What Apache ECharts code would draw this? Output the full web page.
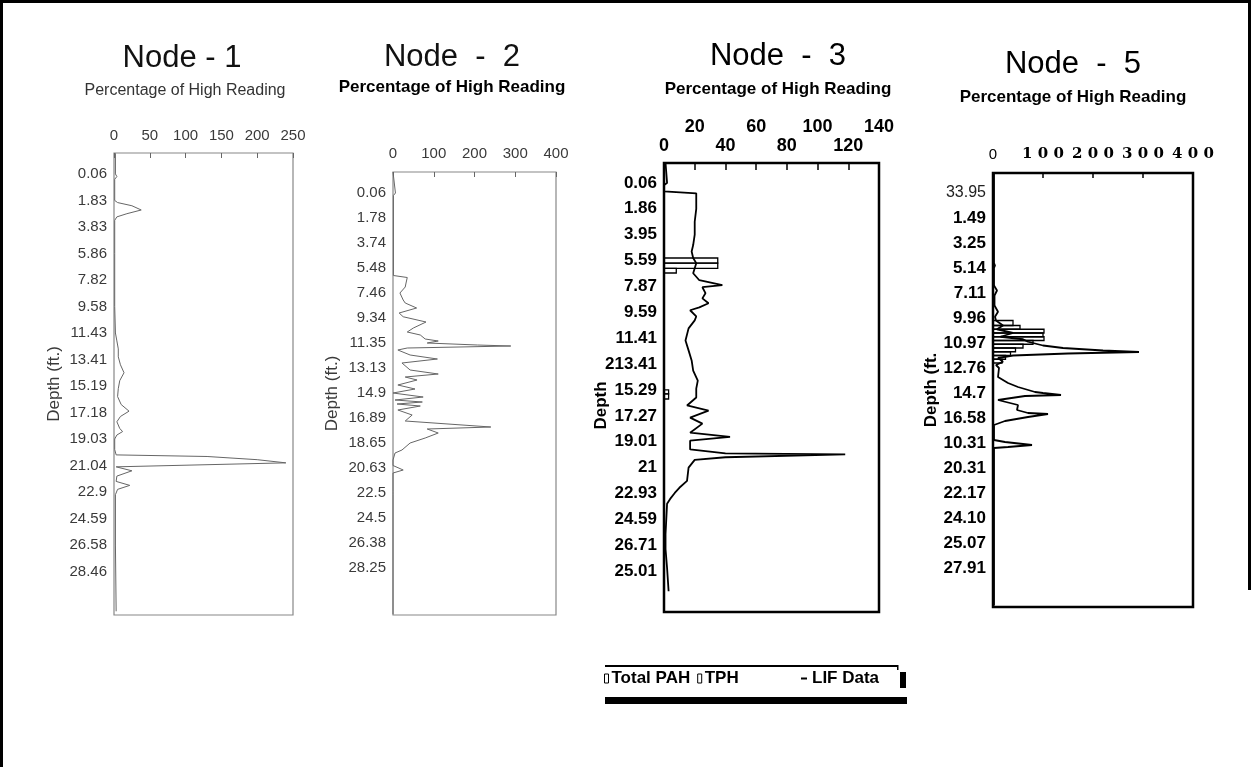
<!DOCTYPE html>
<html><head><meta charset="utf-8">
<script src="https://cdn.jsdelivr.net/npm/echarts@6/dist/echarts.min.js"></script>
<style>html,body{margin:0;padding:0;background:#fff}#c{width:1251px;height:767px}</style>
</head><body><div id="c"></div>
<script>
// ---- tick labels (depth rows, evenly spaced as printed) ----
const node1DepthLabels = ['0.06','1.83','3.83','5.86','7.82','9.58','11.43','13.41','15.19','17.18','19.03','21.04','22.9','24.59','26.58','28.46'];
const node2DepthLabels = ['0.06','1.78','3.74','5.48','7.46','9.34','11.35','13.13','14.9','16.89','18.65','20.63','22.5','24.5','26.38','28.25'];
const node3DepthLabels = ['0.06','1.86','3.95','5.59','7.87','9.59','11.41','213.41','15.29','17.27','19.01','21','22.93','24.59','26.71','25.01'];
const node5DepthLabels = ['33.95','1.49','3.25','5.14','7.11','9.96','10.97','12.76','14.7','16.58','10.31','20.31','22.17','24.10','25.07','27.91'];

// ---- LIF data: [depth row, percentage of high reading] ----
const node1Lif = [[-0.78,2],[0.0,2],[0.1,4],[0.2,1],[1.0,1],[1.08,5],[1.2,25],[1.36,38],[1.5,18],[1.62,4],[1.75,1],[3.0,1],[5.0,1],[6.0,2],[6.3,4],[6.6,6],[6.9,6],[7.2,9],[7.5,14],[7.8,8],[8.1,6],[8.4,5],[8.7,10],[8.95,21],[9.15,9],[9.35,4],[9.6,8],[9.72,12],[9.85,4],[10.0,1],[10.4,1],[10.6,3],[10.66,130],[10.78,200],[10.9,240],[11.05,3],[11.2,25],[11.4,4],[11.6,3],[11.75,22],[11.9,5],[12.1,2],[14.0,2],[16.5,3]];
const node2Lif = [[-0.84,0],[0.0,6],[0.1,1],[3.3,1],[3.38,35],[3.6,32],[3.76,30],[4.0,17],[4.28,25],[4.4,30],[4.6,58],[4.8,15],[4.95,25],[5.16,81],[5.4,50],[5.56,35],[5.68,67],[5.84,79],[5.92,111],[6.0,84],[6.08,207],[6.12,289],[6.2,35],[6.28,12],[6.48,42],[6.64,109],[6.8,22],[7.08,42],[7.24,111],[7.36,30],[7.48,59],[7.68,12],[7.84,54],[8.0,0],[8.16,74],[8.28,5],[8.36,72],[8.44,10],[8.52,67],[8.68,12],[8.88,47],[9.12,30],[9.36,240],[9.44,84],[9.6,111],[9.8,79],[10.0,42],[10.28,22],[10.4,5],[10.68,0],[10.9,0],[11.08,25],[11.2,0],[11.95,0],[12.0,4],[12.05,0],[16.85,0]];
const node3Lif = [[-0.77,1],[0.0,2],[0.08,0],[0.33,0],[0.4,21],[1.0,21],[1.5,20],[2.0,20],[2.4,19],[2.65,18],[2.9,19],[3.1,21],[3.3,20],[3.49,19],[3.76,23],[3.95,38],[4.03,25],[4.26,27],[4.46,25],[4.65,29],[4.81,23],[4.92,17],[5.16,21],[5.31,20],[5.62,16],[6.09,14],[6.47,16],[6.86,18],[7.25,19],[7.64,22],[7.95,21],[8.29,21],[8.6,15],[8.8,29],[9.07,17],[9.3,25],[9.65,17],[9.81,43],[9.96,17],[10.3,17],[10.45,40],[10.49,118],[10.6,40],[10.7,20],[11.0,16],[11.51,15],[11.78,10],[11.98,7],[12.21,4],[12.4,2],[13.57,1],[14.15,1],[14.88,2],[15.78,3]];
const node5Lif = [[-0.8,2],[0.3,2],[0.35,4],[0.45,2],[2.8,2],[2.9,4],[3.0,2],[3.7,2],[3.9,8],[4.1,3],[4.5,3],[4.75,10],[4.95,4],[5.1,6],[5.3,20],[5.45,8],[5.6,40],[5.75,15],[5.85,60],[5.95,70],[6.1,100],[6.2,140],[6.3,220],[6.36,292],[6.42,150],[6.5,40],[6.6,10],[6.75,20],[6.88,6],[7.0,12],[7.36,10],[7.6,30],[7.76,50],[7.96,84],[8.0,100],[8.08,136],[8.12,64],[8.28,10],[8.4,34],[8.48,50],[8.68,48],[8.8,70],[8.84,110],[8.96,70],[9.12,24],[9.28,2],[9.88,2],[9.96,24],[10.08,78],[10.16,30],[10.2,2],[16.5,2]];

// ---- Total PAH / TPH bars: [row top, row bottom, value] ----
const node3TotalPah = [[2.9,3.1,35],[3.3,3.48,8],[8.0,8.15,3]];
const node3Tph = [[3.1,3.3,35],[8.15,8.35,3]];
const node5TotalPah = [[5.3,5.45,54],[5.6,5.75,100],[5.9,6.05,80],[6.2,6.35,45],[6.5,6.65,25]];
const node5Tph = [[5.1,5.3,40],[5.45,5.6,102],[5.75,5.9,102],[6.05,6.2,60],[6.35,6.5,35],[6.65,6.8,18]];

const SANS = "'Liberation Sans', Arial, sans-serif";
const NARROW = "'Liberation Sans Narrow', 'Arial Narrow', 'Liberation Sans', sans-serif";
const toXY = arr => arr.map(p => [p[1], p[0]]);

function barItem(params, api) {
  const p0 = api.coord([0, api.value(0)]);
  const p1 = api.coord([api.value(2), api.value(1)]);
  return {type:'rect', shape:{x:p0[0], y:p0[1], width:p1[0]-p0[0], height:p1[1]-p0[1]},
    style:{fill:'rgba(255,255,255,0)', stroke:'#000', lineWidth:1.3}};
}

function yAxis(gi, labels, min, max, name, nameGap, labelStyle, nameStyle, fmt) {
  return {type:'value', gridIndex:gi, inverse:true, min, max,
    axisLine:{show:false, onZero:false}, axisTick:{show:false}, splitLine:{show:false},
    axisLabel:Object.assign({customValues: labels.map((_, i) => i), margin:7,
      formatter: fmt || (v => labels[Math.round(v)])}, labelStyle),
    name, nameLocation:'middle', nameGap, nameMoveOverlap:false, nameTextStyle: nameStyle};
}

const greyLbl = {fontFamily:SANS, fontSize:15, color:'#3a3a3a'};
const boldLbl = {fontFamily:NARROW, fontSize:17, fontWeight:'bold', color:'#000'};
const node5Lbl = Object.assign({rich:{r:{fontFamily:SANS, fontWeight:'normal', fontSize:16, color:'#222'}}}, boldLbl);

const option = {
  animation:false,
  backgroundColor:'#fff',
  title: [
    {text:'Node - 1', left:182, top:43, textAlign:'center', padding:0, textStyle:{fontFamily:SANS, fontWeight:'normal', fontSize:31, color:'#111'}},
    {text:'Percentage of High Reading', left:185, top:83, textAlign:'center', padding:0, textStyle:{fontFamily:SANS, fontWeight:'normal', fontSize:16, color:'#333'}},
    {text:'Node  -  2', left:452, top:42, textAlign:'center', padding:0, textStyle:{fontFamily:SANS, fontWeight:'normal', fontSize:31, color:'#111'}},
    {text:'Percentage of High Reading', left:452, top:79, textAlign:'center', padding:0, textStyle:{fontFamily:NARROW, fontWeight:'bold', fontSize:17, color:'#000'}},
    {text:'Node  -  3', left:778, top:41, textAlign:'center', padding:0, textStyle:{fontFamily:SANS, fontWeight:'normal', fontSize:31, color:'#000'}},
    {text:'Percentage of High Reading', left:778, top:81, textAlign:'center', padding:0, textStyle:{fontFamily:NARROW, fontWeight:'bold', fontSize:17, color:'#000'}},
    {text:'Node  -  5', left:1073, top:49, textAlign:'center', padding:0, textStyle:{fontFamily:SANS, fontWeight:'normal', fontSize:31, color:'#000'}},
    {text:'Percentage of High Reading', left:1073, top:89, textAlign:'center', padding:0, textStyle:{fontFamily:NARROW, fontWeight:'bold', fontSize:17, color:'#000'}}
  ],
  legend: [
    {data:[{name:'Total PAH', icon:'rect', itemStyle:{color:'#fff', borderColor:'#000', borderWidth:1}},
           {name:'TPH', icon:'rect', itemStyle:{color:'#fff', borderColor:'#000', borderWidth:1}}],
     left:604, top:670, padding:0, itemWidth:4, itemHeight:9, itemGap:7, selectedMode:false,
     textStyle:{fontFamily:SANS, fontWeight:'bold', fontSize:17, color:'#000', padding:[0,0,0,-2]}},
    {data:[{name:'LIF Data', icon:'rect', itemStyle:{color:'#000'}, lineStyle:{color:'#000'}}],
     left:801, top:670, padding:0, itemWidth:6, itemHeight:2, selectedMode:false,
     textStyle:{fontFamily:SANS, fontWeight:'bold', fontSize:17, color:'#000'}}
  ],
  grid: [
    {left:114, top:153, width:179, height:462, show:true, borderColor:'#888', borderWidth:1.2, backgroundColor:'transparent'},
    {left:393, top:172, width:163, height:443, show:true, borderColor:'#888', borderWidth:1.2, backgroundColor:'transparent'},
    {left:664, top:163, width:215, height:449, show:true, borderColor:'#000', borderWidth:2.5, backgroundColor:'transparent'},
    {left:993, top:173, width:200, height:434, show:true, borderColor:'#000', borderWidth:2.5, backgroundColor:'transparent'}
  ],
  xAxis: [
    {type:'value', gridIndex:0, position:'top', min:0, max:250, interval:50, splitLine:{show:false}, axisLine:{show:false, onZero:false},
     axisTick:{inside:true, length:5, lineStyle:{color:'#666'}}, axisLabel:Object.assign({margin:10}, greyLbl)},
    {type:'value', gridIndex:1, position:'top', min:0, max:400, interval:100, splitLine:{show:false}, axisLine:{show:false, onZero:false},
     axisTick:{inside:true, length:5, lineStyle:{color:'#666'}}, axisLabel:Object.assign({margin:11}, greyLbl)},
    {type:'value', gridIndex:2, position:'top', min:0, max:140, interval:20, splitLine:{show:false}, axisLine:{show:false, onZero:false},
     axisTick:{inside:true, length:7, lineStyle:{color:'#000', width:1.5}},
     axisLabel:{margin:7, fontFamily:NARROW, fontWeight:'bold', fontSize:18, color:'#000', lineHeight:19,
       formatter: v => ((v / 20) % 2 === 1 ? v + '\n ' : '' + v)}},
    {type:'value', gridIndex:3, position:'top', min:0, max:400, interval:100, splitLine:{show:false}, axisLine:{show:false, onZero:false},
     axisTick:{inside:true, length:5, lineStyle:{color:'#000', width:1.5}},
     axisLabel:{margin:11, fontFamily:"'DejaVu Serif', serif", fontWeight:'bold', fontSize:15, color:'#000',
       formatter: v => (v === 0 ? '{z|0}' : String(v).split('').join(' ')),
       rich:{z:{fontFamily:SANS, fontWeight:'normal', fontSize:15, color:'#000'}}}}
  ],
  yAxis: [
    yAxis(0, node1DepthLabels, -0.79, 16.64, 'Depth (ft.)', 51, greyLbl, {fontFamily:SANS, fontSize:17, color:'#3a3a3a'}),
    yAxis(1, node2DepthLabels, -0.84, 16.88, 'Depth (ft.)', 52, greyLbl, {fontFamily:SANS, fontSize:17, color:'#3a3a3a'}),
    yAxis(2, node3DepthLabels, -0.77, 16.58, 'Depth', 54, boldLbl, {fontFamily:SANS, fontWeight:'bold', fontSize:17, color:'#000', padding:[0,36,0,0]}),
    yAxis(3, node5DepthLabels, -0.8, 16.56, 'Depth (ft.', 53, node5Lbl, {fontFamily:SANS, fontWeight:'bold', fontSize:17, color:'#000'},
      v => (Math.round(v) === 0 ? '{r|' + node5DepthLabels[0] + '}' : node5DepthLabels[Math.round(v)]))
  ],
  series: [
    {type:'line', name:'LIF Data', xAxisIndex:0, yAxisIndex:0, data:toXY(node1Lif), symbol:'none', lineStyle:{color:'#666', width:1}},
    {type:'line', name:'LIF Data', xAxisIndex:1, yAxisIndex:1, data:toXY(node2Lif), symbol:'none', lineStyle:{color:'#666', width:1}},
    {type:'line', name:'LIF Data', xAxisIndex:2, yAxisIndex:2, data:toXY(node3Lif), symbol:'none', lineStyle:{color:'#000', width:1.8}},
    {type:'line', name:'LIF Data', xAxisIndex:3, yAxisIndex:3, data:toXY(node5Lif), symbol:'none', lineStyle:{color:'#000', width:1.8}},
    {type:'custom', name:'Total PAH', xAxisIndex:2, yAxisIndex:2, data:node3TotalPah, renderItem:barItem, encode:{x:2, y:[0,1]}},
    {type:'custom', name:'TPH', xAxisIndex:2, yAxisIndex:2, data:node3Tph, renderItem:barItem, encode:{x:2, y:[0,1]}},
    {type:'custom', name:'Total PAH', xAxisIndex:3, yAxisIndex:3, data:node5TotalPah, renderItem:barItem, encode:{x:2, y:[0,1]}},
    {type:'custom', name:'TPH', xAxisIndex:3, yAxisIndex:3, data:node5Tph, renderItem:barItem, encode:{x:2, y:[0,1]}}
  ],
  graphic: [
    {type:'rect', shape:{x:0, y:0, width:1251, height:3}, style:{fill:'#000'}},
    {type:'rect', shape:{x:0, y:0, width:3, height:767}, style:{fill:'#000'}},
    {type:'rect', shape:{x:1248, y:0, width:3, height:590}, style:{fill:'#000'}},
    {type:'rect', shape:{x:605, y:665, width:293, height:2}, style:{fill:'#000'}},
    {type:'rect', shape:{x:897, y:665, width:1.5, height:5}, style:{fill:'#000'}},
    {type:'rect', shape:{x:605, y:697, width:302, height:7}, style:{fill:'#000'}},
    {type:'rect', shape:{x:900, y:672, width:6, height:16}, style:{fill:'#000'}}
  ]
};
const chart = echarts.init(document.getElementById('c'), null, {renderer:'canvas'});
chart.setOption(option);
</script></body></html>
